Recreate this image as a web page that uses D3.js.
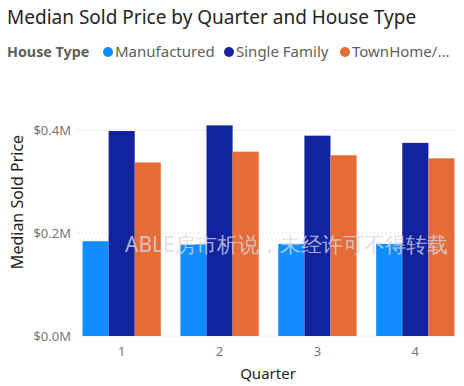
<!DOCTYPE html>
<html>
<head>
<meta charset="utf-8">
<script src="https://cdn.jsdelivr.net/npm/d3@7"></script>
<style>
  body { margin: 0; background: #fff; }
  text { font-family: "Segoe UI", "Noto Sans", "DejaVu Sans", sans-serif; }
</style>
</head>
<body>
<svg width="464" height="386"></svg>
<script>
// data (values in $M)
var quarters = ["1", "2", "3", "4"];
var houseTypes = ["Manufactured", "Single Family", "TownHome/..."];
var manufactured = [0.184, 0.178, 0.179, 0.179];
var singleFamily = [0.398, 0.409, 0.389, 0.375];
var townHome = [0.337, 0.358, 0.351, 0.345];
var yTicks = [0, 0.2, 0.4];
var colors = ["#118DFF", "#12239E", "#E66C37"];

var series = [manufactured, singleFamily, townHome];

var svg = d3.select("svg");

// title
svg.append("text")
  .attr("x", 7).attr("y", 24)
  .attr("font-size", 19)
  .attr("fill", "#252423")
  .text("Median Sold Price by Quarter and House Type");

// legend
var legend = svg.append("g").attr("transform", "translate(0,52)");
legend.append("text")
  .attr("x", 7).attr("y", 5)
  .attr("font-size", 14.3).attr("font-weight", "bold")
  .attr("fill", "#605E5C")
  .text("House Type");
var legendX = [108, 229, 345];
houseTypes.forEach(function(t, i) {
  legend.append("circle")
    .attr("cx", legendX[i]).attr("cy", 0).attr("r", 5)
    .attr("fill", colors[i]);
  legend.append("text")
    .attr("x", legendX[i] + 7).attr("y", 5)
    .attr("font-size", 15).attr("fill", "#605E5C")
    .text(t);
});

var x0 = d3.scaleBand().domain(quarters).range([82.5, 454.5]).paddingInner(0.2);
var x1 = d3.scaleBand().domain(d3.range(houseTypes.length)).range([0, x0.bandwidth()]);
var y = d3.scaleLinear().domain([0, 0.4]).range([336, 130]);

// gridlines
svg.append("g").selectAll("line")
  .data(yTicks)
  .enter().append("line")
  .attr("x1", 78).attr("x2", 456)
  .attr("y1", function(d) { return y(d); })
  .attr("y2", function(d) { return y(d); })
  .attr("stroke", "#C8C6C4")
  .attr("stroke-dasharray", "1,3");

// y axis
var yAxis = svg.append("g")
  .attr("transform", "translate(71,0)")
  .call(d3.axisLeft(y).tickValues(yTicks).tickSize(0).tickPadding(0)
    .tickFormat(function(d) { return "$" + d.toFixed(1) + "M"; }));
yAxis.select(".domain").remove();
yAxis.selectAll("text").attr("font-size", 13).attr("fill", "#777");

// x axis
var xAxis = svg.append("g")
  .attr("transform", "translate(0,342)")
  .call(d3.axisBottom(x0).tickSize(0).tickPadding(5));
xAxis.select(".domain").remove();
xAxis.selectAll("text").attr("font-size", 13).attr("fill", "#777");

// bars
var groups = svg.append("g").selectAll("g")
  .data(quarters)
  .enter().append("g")
  .attr("transform", function(d) { return "translate(" + x0(d) + ",0)"; });

groups.selectAll("rect")
  .data(function(d, qi) { return series.map(function(s, si) { return { si: si, v: s[qi] }; }); })
  .enter().append("rect")
  .attr("x", function(d) { return x1(d.si); })
  .attr("width", x1.bandwidth())
  .attr("y", function(d) { return y(d.v); })
  .attr("height", function(d) { return y(0) - y(d.v); })
  .attr("fill", function(d) { return colors[d.si]; });

// axis titles
svg.append("text")
  .attr("transform", "translate(23,202) rotate(-90)")
  .attr("text-anchor", "middle")
  .attr("font-size", 16).attr("fill", "#252423")
  .text("Median Sold Price");
svg.append("text")
  .attr("x", 268).attr("y", 379)
  .attr("text-anchor", "middle")
  .attr("font-size", 15).attr("fill", "#252423")
  .text("Quarter");

// watermark
svg.append("text")
  .attr("x", 125).attr("y", 252)
  .attr("font-size", 21)
  .attr("font-family", "'Noto Sans CJK SC', sans-serif")
  .attr("fill", "#d6d6e0").attr("fill-opacity", 0.8)
  .text("ABLE房市析说，未经许可不得转载");
</script>
</body>
</html>
